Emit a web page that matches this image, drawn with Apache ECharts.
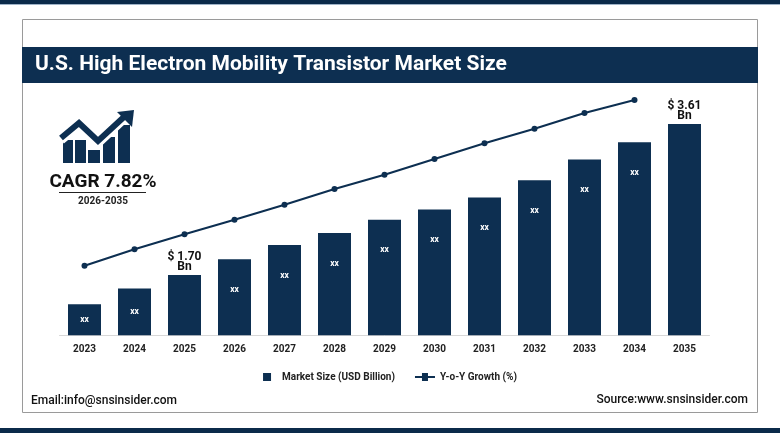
<!DOCTYPE html>
<html>
<head>
<meta charset="utf-8">
<script src="https://cdn.jsdelivr.net/npm/echarts@6/dist/echarts.min.js"></script>
<style>html,body{margin:0;padding:0;background:#fff}#c{width:780px;height:433px}</style>
</head>
<body>
<div id="c"></div>
<script>
const years = ['2023','2024','2025','2026','2027','2028','2029','2030','2031','2032','2033','2034','2035'];
const marketSize = [1.33,1.53,1.70,1.90,2.08,2.23,2.40,2.53,2.68,2.90,3.16,3.38,3.61];
const yoyGrowth = [28.96,35.79,42.03,48.11,54.35,60.88,66.83,73.37,79.90,85.98,92.51,97.92,null];
const barLabels = ['xx','xx','$ 1.70\nBn','xx','xx','xx','xx','xx','xx','xx','xx','xx','$ 3.61\nBn'];
const titleText = 'U.S. High Electron Mobility Transistor Market Size';
const cagrText = 'CAGR 7.82%';
const cagrPeriod = '2026-2035';
const emailText = 'Email:info@snsinsider.com';
const sourceText = 'Source:www.snsinsider.com';
const seriesNames = ['Market Size (USD Billion)','Y-o-Y Growth (%)'];

const NAVY = '#0d2f51';
const FONT = 'Roboto';

const barData = marketSize.map((v, i) => {
  const isHighlight = barLabels[i].indexOf('$') === 0;
  return {
    value: v,
    label: isHighlight
      ? {show: true, position: 'top', distance: 3, color: '#111', fontSize: 12, fontWeight: 'bold', lineHeight: 10, fontFamily: FONT, formatter: barLabels[i]}
      : {show: true, position: i < 2 ? 'inside' : 'insideTop', distance: 26, color: '#fff', fontSize: 8.5, fontWeight: 'bold', fontFamily: FONT, formatter: barLabels[i]}
  };
});

const chart = echarts.init(document.getElementById('c'), null, {renderer: 'canvas'});
chart.setOption({
  animation: false,
  backgroundColor: '#fff',
  textStyle: {fontFamily: FONT},
  graphic: [
    {type: 'rect', shape: {x: 0, y: 0, width: 780, height: 4}, style: {fill: '#0b2a4a'}},
    {type: 'rect', shape: {x: 0, y: 4, width: 780, height: 1}, style: {fill: '#9fb3c8'}},
    {type: 'rect', shape: {x: 0, y: 428, width: 780, height: 5}, style: {fill: '#0b2a4a'}},
    {type: 'rect', shape: {x: 22.5, y: 19.5, width: 735, height: 393}, style: {fill: 'none', stroke: '#9a9a9a', lineWidth: 1}},
    {type: 'rect', shape: {x: 22, y: 47, width: 736, height: 36}, style: {fill: NAVY}},
    {type: 'text', x: 35, y: 65, style: {text: titleText, fill: '#fff', font: 'bold 21px Roboto', textVerticalAlign: 'middle'}},
    // CAGR icon bars
    {type: 'rect', shape: {x: 63, y: 140, width: 10, height: 23}, style: {fill: NAVY}},
    {type: 'rect', shape: {x: 75, y: 140, width: 11, height: 23}, style: {fill: NAVY}},
    {type: 'rect', shape: {x: 88, y: 150, width: 12, height: 13}, style: {fill: NAVY}},
    {type: 'rect', shape: {x: 103, y: 137, width: 12, height: 26}, style: {fill: NAVY}},
    {type: 'rect', shape: {x: 118, y: 125, width: 12, height: 38}, style: {fill: NAVY}},
    {type: 'polyline', shape: {points: [[61, 140], [79, 125], [98, 143], [127, 116]]}, style: {stroke: '#fff', lineWidth: 9, fill: 'none', lineJoin: 'miter'}},
    {type: 'polyline', shape: {points: [[61, 138], [79, 123], [98, 141], [125, 116]]}, style: {stroke: NAVY, lineWidth: 6, fill: 'none', lineJoin: 'miter'}},
    {type: 'polygon', shape: {points: [[117, 112], [134, 110], [132, 127]]}, style: {fill: NAVY}},
    {type: 'text', x: 103, y: 182, style: {text: cagrText, fill: '#111', font: 'bold 19px Roboto', textAlign: 'center', textVerticalAlign: 'middle'}},
    {type: 'rect', shape: {x: 59, y: 192, width: 87, height: 1}, style: {fill: '#222'}},
    {type: 'text', x: 103, y: 201, style: {text: cagrPeriod, fill: '#222', font: 'bold 10px Roboto', textAlign: 'center', textVerticalAlign: 'middle'}},
    {type: 'text', x: 31, y: 401, style: {text: emailText, fill: '#111', font: '500 12px Roboto', textVerticalAlign: 'middle'}},
    {type: 'text', x: 748, y: 400, style: {text: sourceText, fill: '#111', font: '500 12px Roboto', textAlign: 'right', textVerticalAlign: 'middle'}}
  ],
  legend: {
    top: 367,
    left: 'center',
    itemGap: 20,
    itemWidth: 20,
    itemHeight: 8,
    textStyle: {fontSize: 10, fontWeight: 'bold', color: '#222', fontFamily: FONT},
    data: [
      {name: seriesNames[0], icon: 'path://M10,0H18V8H10Z'},
      {name: seriesNames[1], icon: 'path://M0,3H7V0H13V3H20V5H13V8H7V5H0Z'}
    ]
  },
  grid: {left: 59.5, width: 650, top: 95, height: 240.3},
  xAxis: {
    type: 'category',
    data: years,
    axisLine: {show: true, lineStyle: {color: '#d8d8d8'}},
    axisTick: {show: false},
    axisLabel: {color: '#222', fontSize: 10, fontWeight: 'bold', margin: 9, fontFamily: FONT}
  },
  yAxis: [
    {type: 'value', min: 0.937, max: 3.977, show: false, splitLine: {show: false}},
    {type: 'value', min: 0, max: 100, show: false, splitLine: {show: false}}
  ],
  series: [
    {name: seriesNames[0], type: 'bar', data: barData, barWidth: 33, itemStyle: {color: NAVY}, yAxisIndex: 0},
    {name: seriesNames[1], type: 'line', data: yoyGrowth, yAxisIndex: 1, symbol: 'circle', symbolSize: 6,
     lineStyle: {color: NAVY, width: 2}, itemStyle: {color: NAVY}}
  ]
});
</script>
</body>
</html>
